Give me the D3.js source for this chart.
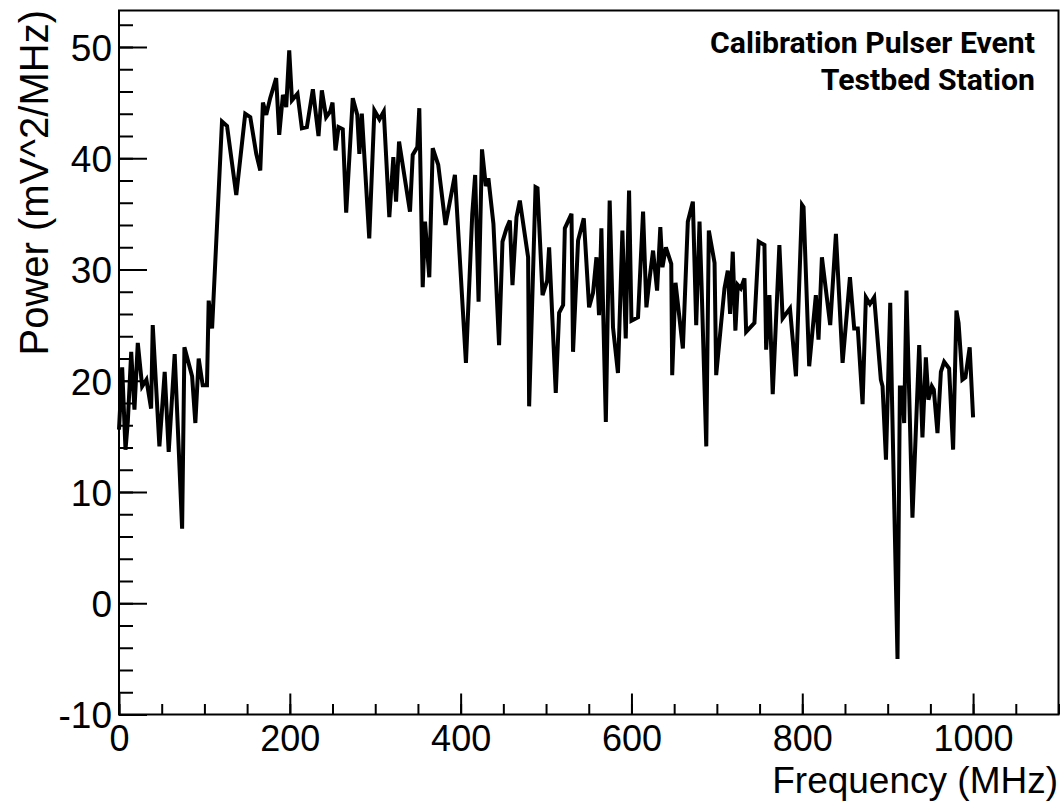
<!DOCTYPE html>
<html>
<head>
<meta charset="utf-8">
<script src="https://cdn.jsdelivr.net/npm/d3@7"></script>
<style>
  body { margin: 0; background: #fff; }
  svg { display: block; }
  .tick-label { font-family: "Liberation Sans", Arial, sans-serif; fill: #000; }
</style>
</head>
<body>
<svg id="chart" width="1064" height="801"></svg>
<script>
// data
const freqMHz = [0, 3.7, 7.6, 10.3, 14.3, 18.1, 22, 27.1, 32.1, 37.6, 39.5, 47.3, 53.5, 58.2, 65.2, 73.9, 76.6, 85.6, 89.4, 93.3,
  98, 103, 105, 109, 120.6, 126.5, 137.3, 147.8, 153.7, 160.7, 165.4, 168.5, 172.4, 177, 184, 187.6, 191.9, 195.8, 199.3, 202.5,
  209, 214.1, 220, 227, 233.6, 237.5, 242.5, 247.2, 250, 253.5, 257, 262, 266, 273.7, 279, 281.4, 284.3, 293, 299, 305,
  310, 316.5, 321.2, 324.4, 327.9, 340.7, 343.9, 349.3, 351.6, 355.6, 358.3, 363.3, 367.3, 373.8, 382.3, 393.3, 406.2, 413.6, 417, 421,
  425, 429.5, 432.5, 438.4, 445, 449, 453.7, 457.6, 460.7, 465.4, 469.3, 479, 480.2, 487.7, 490, 495.9, 501.3, 503.6, 511.4, 515.3,
  520, 522, 529.8, 531.6, 537.5, 544.2, 550.4, 555, 559, 562, 564.8, 567, 570, 574.5, 578.4, 584.2, 589.4, 593.3, 597.2, 600,
  607.7, 613.6, 617.5, 621.4, 625.3, 630, 633.8, 636.3, 640.3, 646.6, 647.7, 651.6, 660.2, 666, 671.9, 675.8, 679.7, 682, 687.6, 690.6,
  697.3, 699.2, 708.9, 712.8, 715.5, 718.6, 721.7, 724.5, 728, 732.3, 734.3, 744, 749, 755.7, 757.7, 761.5, 765.4, 773.2, 777, 785.6,
  792.6, 799.7, 801.5, 808.1, 815.9, 819, 823, 832.7, 839.4, 847.2, 855.8, 860.8, 865, 870.6, 874.5, 879.2, 884.2, 892, 894, 898,
  903, 905, 911.5, 914.3, 917, 919.3, 922, 929, 936.9, 940.7, 944.7, 947.7, 951.7, 954, 958.3, 962.3, 966.1, 971.9, 976.6, 980.5,
  983, 987.5, 991, 996, 1000];

const powerVals = [15.6, 21.2, 13.8, 16.3, 22.6, 17.4, 23.4, 19.5, 20.1, 17.5, 25, 14.1, 20.8, 13.6, 22.4, 6.7, 23, 20.4, 16.2, 22,
  19.6, 19.6, 27.2, 24.7, 43.3, 42.9, 36.7, 44, 43.7, 40.4, 38.9, 45, 43.9, 45.4, 47.2, 42.1, 45.7, 44.6, 49.7, 45.2,
  45.8, 42.7, 42.8, 46.2, 42, 46.1, 43.7, 44.2, 45, 40.7, 42.8, 42.6, 35.1, 45.4, 43.9, 40.4, 44, 32.8, 44.3, 43.5,
  44.2, 34.7, 40.1, 36.1, 41.5, 35.2, 40.3, 41, 44.5, 28.4, 34.3, 29.3, 40.9, 39.4, 34, 38.5, 21.6, 35, 38.5, 27.1,
  40.8, 37.5, 38.2, 34.1, 23.2, 32.5, 33.7, 34.4, 28.6, 34.7, 36.2, 31.1, 17.7, 37.4, 37.3, 27.7, 29, 32, 18.9, 26.1,
  26.8, 33.7, 35, 22.6, 32.6, 34.6, 26.6, 27.9, 31.1, 25.9, 33.7, 25.9, 16.3, 36.2, 24.8, 20.7, 33.5, 23.8, 37.1, 25.4,
  25.7, 35.2, 26.6, 29.3, 31.7, 28.1, 33.8, 30.2, 32, 30.5, 20.5, 28.8, 22.9, 34.3, 36.1, 25, 34.3, 28.8, 14.1, 33.5,
  30.6, 20.5, 28.3, 29.9, 26, 31.6, 24.5, 28.6, 28.3, 29.2, 24.4, 25.2, 32.5, 32.2, 22.8, 27.7, 18.8, 32.2, 25.6, 26.5,
  20.4, 35.8, 35.6, 21.3, 27.7, 23.7, 31.1, 25, 33.2, 21.6, 29.3, 24.7, 24.7, 17.9, 27.5, 26.9, 27.5, 20.1, 19.5, 12.9,
  27, 18.6, -5, 19.4, 19.4, 16.2, 28.1, 7.7, 23.2, 14.9, 22.1, 18.3, 19.5, 19.2, 15.3, 20.8, 21.7, 21.1, 13.8, 26.3,
  25.2, 20.1, 20.3, 23, 16.7];

const xTickValues = [0, 200, 400, 600, 800, 1000];
const yTickValues = [-10, 0, 10, 20, 30, 40, 50];
const legendLines = ["Calibration Pulser Event", "Testbed Station"];

const svg = d3.select("#chart");

const plotLeft = 119, plotRight = 1058.5, plotTop = 10.5, plotBottom = 714.5;

const x = d3.scaleLinear().domain([0, 1100]).range([plotLeft, plotRight]);
const y = d3.scaleLinear().domain([-10, 53.28]).range([plotBottom, plotTop]);

const plainFmt = d => String(d);

// minor ticks first
svg.append("g")
    .attr("transform", `translate(0,${plotBottom})`)
    .call(d3.axisBottom(x).tickValues(d3.range(0, 1101, 50)).tickSize(-10.5).tickFormat(""))
    .call(g => g.select(".domain").remove())
    .selectAll("line").attr("stroke-width", 2);

svg.append("g")
    .attr("transform", `translate(${plotLeft},0)`)
    .call(d3.axisLeft(y).tickValues(d3.range(-10, 53, 2)).tickSize(-14).tickFormat(""))
    .call(g => g.select(".domain").remove())
    .selectAll("line").attr("stroke-width", 2);

// major ticks + labels
const xAxis = svg.append("g")
    .attr("transform", `translate(0,${plotBottom})`)
    .call(d3.axisBottom(x).tickValues(xTickValues).tickSize(-21).tickFormat(plainFmt))
    .call(g => g.select(".domain").remove());
xAxis.selectAll("line").attr("stroke-width", 2);
xAxis.selectAll("text")
    .attr("class", "tick-label")
    .style("font-size", "36px")
    .attr("dy", 0)
    .attr("y", 36.5);

const yAxis = svg.append("g")
    .attr("transform", `translate(${plotLeft},0)`)
    .call(d3.axisLeft(y).tickValues(yTickValues).tickSize(-28).tickFormat(plainFmt))
    .call(g => g.select(".domain").remove());
yAxis.selectAll("line").attr("stroke-width", 2);
yAxis.selectAll("text")
    .attr("class", "tick-label")
    .style("font-size", "37px")
    .attr("x", -7)
    .attr("dy", "0.36em");

// frame
svg.append("rect")
    .attr("x", plotLeft).attr("y", plotTop)
    .attr("width", plotRight - plotLeft).attr("height", plotBottom - plotTop)
    .attr("fill", "none").attr("stroke", "#000").attr("stroke-width", 2);

// spectrum
const line = d3.line()
    .x((d, i) => x(freqMHz[i]))
    .y(d => y(d));

svg.append("path")
    .datum(powerVals)
    .attr("d", line)
    .attr("fill", "none")
    .attr("stroke", "#000")
    .attr("stroke-width", 4)
    .attr("stroke-linejoin", "miter")
    .attr("stroke-miterlimit", 4);

// axis titles
svg.append("text")
    .attr("class", "tick-label")
    .attr("text-anchor", "end")
    .attr("x", 1058).attr("y", 793)
    .style("font-size", "37px")
    .text("Frequency (MHz)");

svg.append("text")
    .attr("class", "tick-label")
    .attr("text-anchor", "end")
    .attr("transform", "translate(48,10) rotate(-90)")
    .style("font-size", "40px")
    .text("Power (mV^2/MHz)");

// legend
const legend = svg.selectAll(".legend")
  .data(legendLines)
  .enter()
  .append("text")
    .attr("class", "legend")
    .attr("text-anchor", "end")
    .attr("x", 1035)
    .attr("y", (d, i) => 53 + i * 37)
    .style("font-family", "Roboto, 'Liberation Sans', sans-serif")
    .style("font-weight", "bold")
    .style("font-size", "25px")
    .text(d => d);

// fit first legend line to the width it has in the figure
const w0 = legend.node().getComputedTextLength();
legend.style("font-size", (25 * 325 / w0).toFixed(2) + "px");
</script>
</body>
</html>
